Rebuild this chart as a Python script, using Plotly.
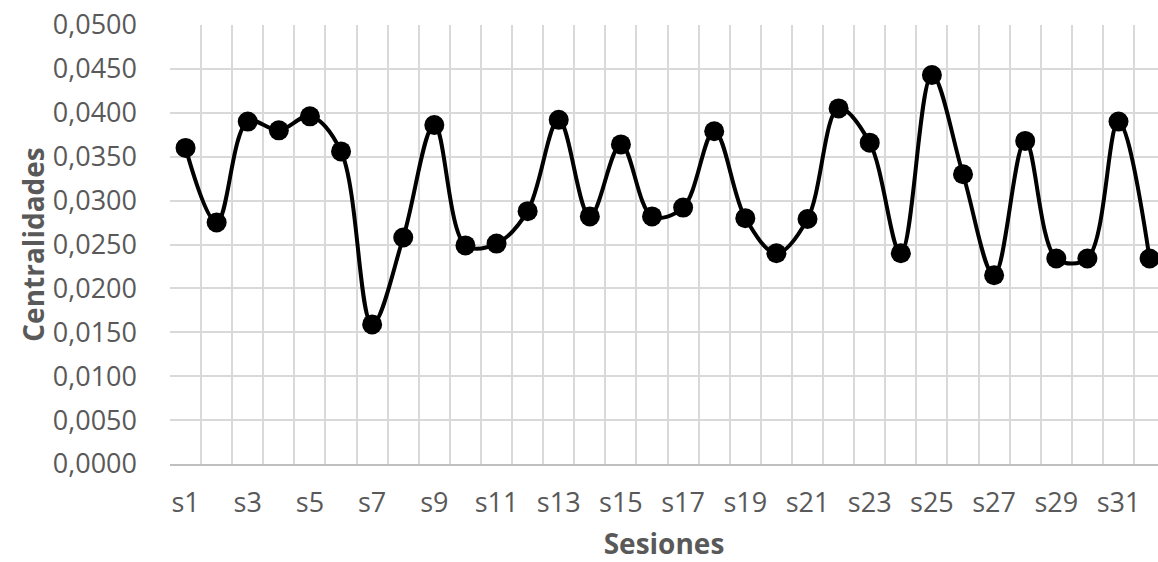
import plotly.graph_objects as go

sessions = [f"s{i}" for i in range(1, 33)]
centralidades = [0.0360, 0.0275, 0.0390, 0.0380, 0.0396, 0.0356, 0.0159, 0.0258,
                 0.0386, 0.0249, 0.0251, 0.0288, 0.0392, 0.0282, 0.0364, 0.0282,
                 0.0292, 0.0379, 0.0280, 0.0240, 0.0279, 0.0405, 0.0366, 0.0240,
                 0.0443, 0.0330, 0.0215, 0.0368, 0.0234, 0.0234, 0.0390, 0.0234]
y_ticks = [0.0, 0.005, 0.01, 0.015, 0.02, 0.025, 0.03, 0.035, 0.04, 0.045, 0.05]

xpos = list(range(1, len(sessions) + 1))
tick_pos = xpos[::2]
tick_txt = sessions[::2]

GRAY = "#595959"
GRID = "#d9d9d9"
FONT = "Open Sans, sans-serif"

fig = go.Figure()
fig.add_trace(go.Scatter(
    x=xpos, y=centralidades, mode="lines+markers",
    line=dict(color="black", width=4, shape="spline", smoothing=1.0),
    marker=dict(color="black", size=20),
    cliponaxis=False, showlegend=False,
))

fig.update_layout(
    width=1158, height=562,
    margin=dict(l=170, r=0, t=25, b=98, autoexpand=False),
    paper_bgcolor="white", plot_bgcolor="white",
    separators=",.",
    font=dict(family=FONT, color=GRAY, size=27),
)
fig.update_xaxes(
    range=[0.5, 32.27], automargin=False,
    tickmode="array", tickvals=tick_pos, ticktext=tick_txt,
    showgrid=False, zeroline=False,
    showline=True, linecolor="#bfbfbf", linewidth=2,
    ticks="", ticklabelstandoff=14,
    tickfont=dict(family=FONT, size=27, color=GRAY),
    minor=dict(tick0=0.5, dtick=1, showgrid=True, gridcolor=GRID, gridwidth=2),
    title=dict(text="<b>Sesiones</b>", font=dict(family=FONT, size=28, color=GRAY), standoff=21),
)
fig.update_yaxes(
    range=[0, 0.05], automargin=False, tickvals=y_ticks, tickformat=".4f",
    ticklabeloverflow="allow",
    showgrid=True, gridcolor=GRID, gridwidth=2,
    zeroline=False, showline=False, ticks="",
    ticklabelstandoff=32,
    tickfont=dict(family=FONT, size=27, color=GRAY),
    title=dict(text="<b>Centralidades</b>", font=dict(family=FONT, size=28, color=GRAY), standoff=0),
)

fig.write_html(
    "out.html",
    config={"displayModeBar": False},
    post_script="document.body.style.margin='0';document.body.style.overflow='hidden';",
)
